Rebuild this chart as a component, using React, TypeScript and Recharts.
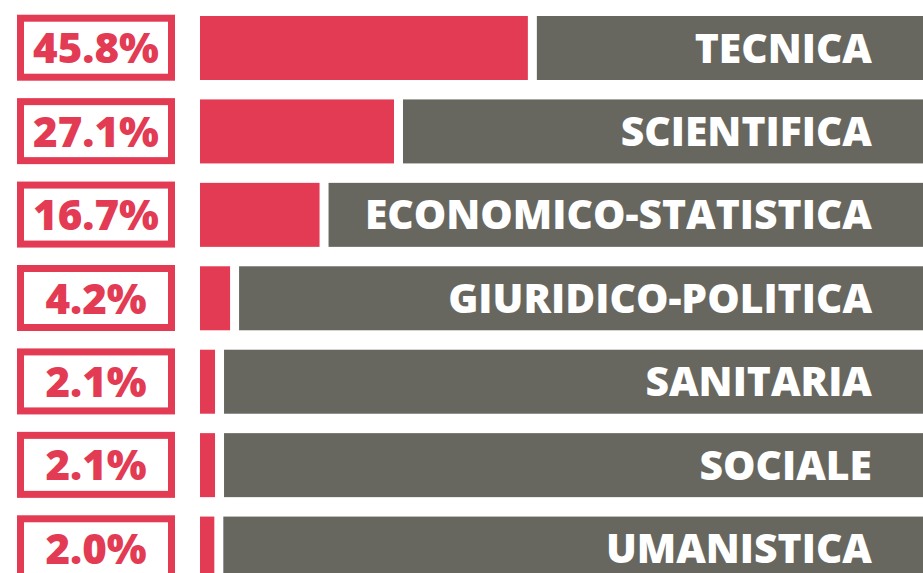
import React from "react";
import { BarChart, Bar, XAxis, YAxis, LabelList } from "recharts";

const categories = [
  "TECNICA",
  "SCIENTIFICA",
  "ECONOMICO-STATISTICA",
  "GIURIDICO-POLITICA",
  "SANITARIA",
  "SOCIALE",
  "UMANISTICA",
];
const shares = [45.8, 27.1, 16.7, 4.2, 2.1, 2.1, 2.0];

const data = categories.map((name, i) => ({
  name,
  value: shares[i],
  pct: shares[i].toFixed(1) + "%",
}));

const RED = "#e23b53";
const GRAY = "#68675f";
const FONT = "'Open Sans', 'DejaVu Sans', sans-serif";
const GAP = 9;

const BarShape = (props: any) => {
  const { x, y, width, height, background } = props;
  const right = background ? background.x + background.width + 20 : 960;
  const gx = x + width + GAP;
  return (
    <g>
      <rect x={x} y={y} width={Math.max(width, 0)} height={height} fill={RED} />
      <rect x={gx} y={y} width={Math.max(right - gx, 0)} height={height} fill={GRAY} />
    </g>
  );
};

const PctTick = (props: any) => {
  const { y, payload } = props;
  const bw = 7;
  return (
    <g>
      <rect
        x={17 + bw / 2}
        y={y - 33 + bw / 2}
        width={158 - bw}
        height={66 - bw}
        fill="#fff"
        stroke={RED}
        strokeWidth={bw}
      />
      <text
        x={96}
        y={y + 15.5}
        textAnchor="middle"
        fill={RED}
        fontFamily={FONT}
        fontWeight={800}
        fontSize={42}
      >
        {payload.value}
      </text>
    </g>
  );
};

const NameLabel = (props: any) => {
  const { y, height, value, viewBox } = props;
  const vb = viewBox || {};
  const cy = (vb.y ?? y) + (vb.height ?? height) / 2;
  return (
    <text
      x={872}
      y={cy + 14.5}
      textAnchor="end"
      fill="#ffffff"
      fontFamily={FONT}
      fontWeight={800}
      fontSize={40.8}
    >
      {value}
    </text>
  );
};

export default function App() {
  return (
    <div
      style={{
        position: "absolute",
        left: 0,
        top: 0,
        width: 923,
        height: 573,
        overflow: "hidden",
        background: "#fff",
      }}
    >
      <BarChart
        width={923}
        height={590}
        data={data}
        layout="vertical"
        margin={{ top: 6, right: 0, bottom: 0, left: 0 }}
        barSize={64}
      >
        <XAxis type="number" domain={[0, 101]} hide />
        <YAxis
          type="category"
          dataKey="pct"
          width={200}
          axisLine={false}
          tickLine={false}
          tick={<PctTick />}
          interval={0}
        />
        <Bar dataKey="value" isAnimationActive={false} shape={<BarShape />}>
          <LabelList dataKey="name" content={<NameLabel />} />
        </Bar>
      </BarChart>
    </div>
  );
}
